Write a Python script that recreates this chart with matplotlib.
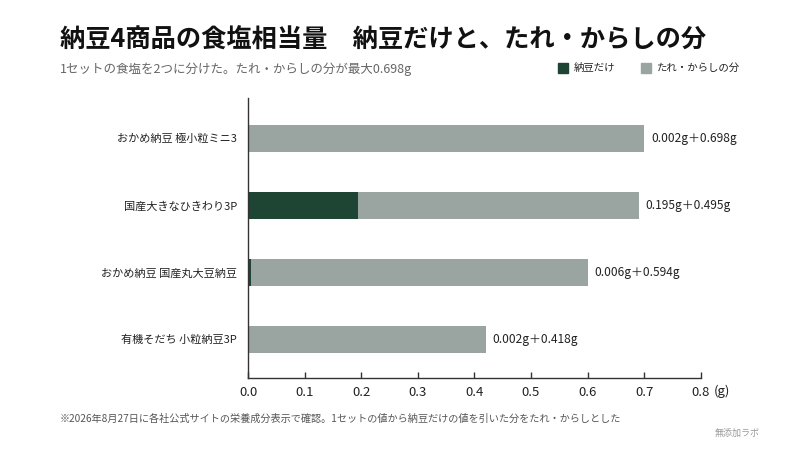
import matplotlib
matplotlib.use("Agg")
import matplotlib.pyplot as plt
from matplotlib.patches import Rectangle
from matplotlib.transforms import blended_transform_factory

plt.rcParams['font.family'] = ['Noto Sans CJK JP', 'DejaVu Sans']

products = ['おかめ納豆 極小粒ミニ3', '国産大きなひきわり3P', 'おかめ納豆 国産丸大豆納豆', '有機そだち 小粒納豆3P']
natto = [0.002, 0.195, 0.006, 0.002]
sauce = [0.698, 0.495, 0.594, 0.418]
xticks = [0.0, 0.1, 0.2, 0.3, 0.4, 0.5, 0.6, 0.7, 0.8]

green = '#1e4433'
gray = '#9aa5a1'
text_col = '#222222'

fig = plt.figure(figsize=(8, 4.5), dpi=100)
ax = fig.add_axes([0.31, 0.16, 0.566, 0.622])

ypos = list(range(len(products)))
ax.barh(ypos, natto, height=0.4, color=green)
ax.barh(ypos, sauce, left=natto, height=0.4, color=gray)

for y, a, b in zip(ypos, natto, sauce):
    ax.text(a + b + 0.0125, y, f'{a:.3f}g＋{b:.3f}g', va='center', ha='left',
            fontsize=8.6, color=text_col)

ax.set_xlim(0, 0.8)
ax.set_ylim(3.58, -0.6)
ax.set_yticks(ypos)
ax.set_yticklabels(products, fontsize=8, color=text_col)
ax.set_xticks(xticks)
ax.set_xticklabels([f'{t:.1f}' for t in xticks], fontsize=9.5, color=text_col)
ax.tick_params(axis='y', length=0, pad=8)
ax.tick_params(axis='x', direction='in', length=4, width=1, color='#333333', pad=6)
for s in ['top', 'right']:
    ax.spines[s].set_visible(False)
for s in ['left', 'bottom']:
    ax.spines[s].set_color('#333333')
    ax.spines[s].set_linewidth(1)
trans = blended_transform_factory(ax.transData, ax.transAxes)
ax.text(0.822, -0.048, '(g)', transform=trans, ha='left', va='center',
        fontsize=9.5, color=text_col)

fig.text(0.075, 0.91, '納豆4商品の食塩相当量　納豆だけと、たれ・からしの分',
         fontsize=18.2, fontweight='bold', color='#111111', va='center')
fig.text(0.075, 0.845, '1セットの食塩を2つに分けた。たれ・からしの分が最大0.698g',
         fontsize=9, color='#666666', va='center')

# legend
fig.patches.append(Rectangle((0.697, 0.837), 0.013, 0.024, transform=fig.transFigure, color=green))
fig.text(0.717, 0.849, '納豆だけ', fontsize=7.5, color=text_col, va='center')
fig.patches.append(Rectangle((0.801, 0.837), 0.013, 0.024, transform=fig.transFigure, color=gray))
fig.text(0.821, 0.849, 'たれ・からしの分', fontsize=7.5, color=text_col, va='center')

fig.text(0.075, 0.07, '※2026年8月27日に各社公式サイトの栄養成分表示で確認。1セットの値から納豆だけの値を引いた分をたれ・からしとした',
         fontsize=7.3, color='#555555', va='center')
fig.text(0.95, 0.038, '無添加ラボ', fontsize=6.5, color='#999999', va='center', ha='right')

fig.savefig('out.png', dpi=100)
